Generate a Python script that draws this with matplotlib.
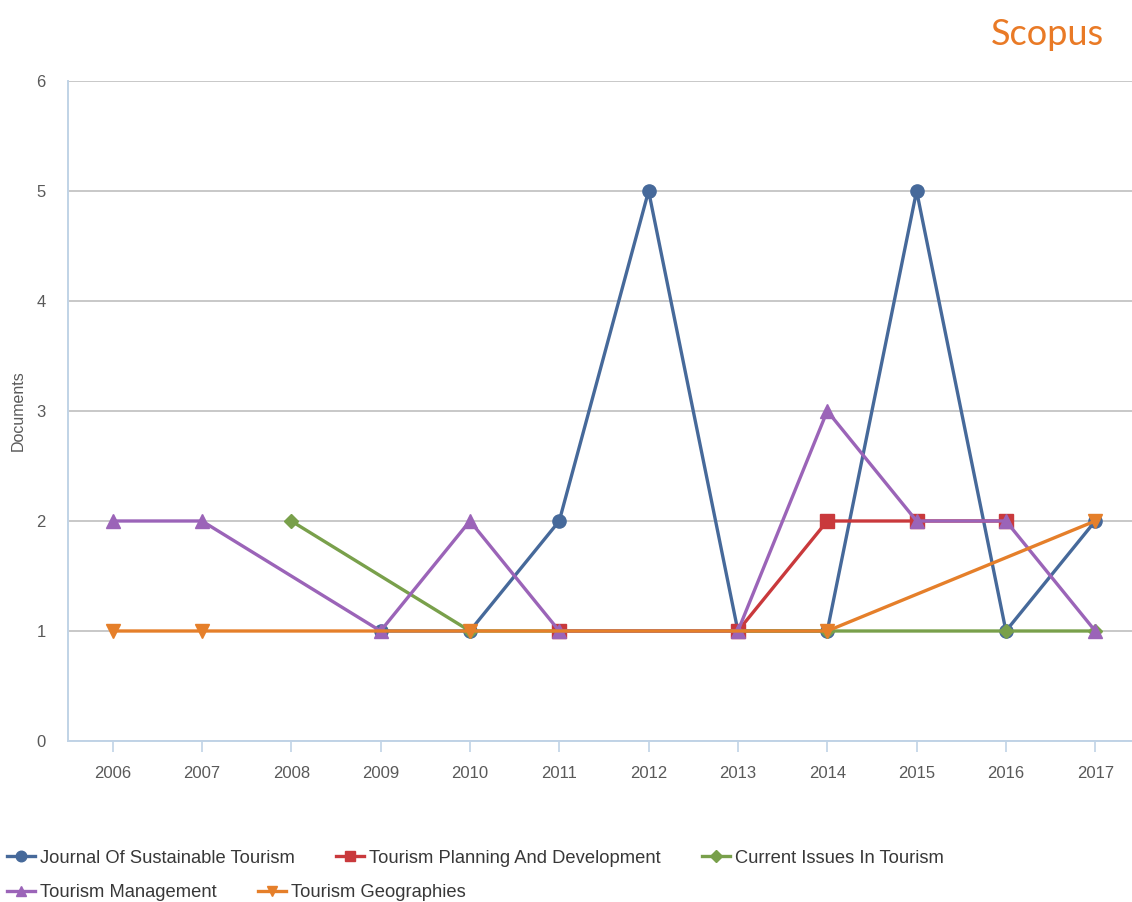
import matplotlib
matplotlib.use('Agg')
import matplotlib.pyplot as plt

plt.rcParams['font.family'] = ['Liberation Sans', 'DejaVu Sans']

# data
jst_years = [2009, 2010, 2011, 2012, 2013, 2014, 2015, 2016, 2017]
jst_docs = [1, 1, 2, 5, 1, 1, 5, 1, 2]
tpd_years = [2011, 2013, 2014, 2015, 2016]
tpd_docs = [1, 1, 2, 2, 2]
cit_years = [2008, 2010, 2014, 2016, 2017]
cit_docs = [2, 1, 1, 1, 1]
tm_years = [2006, 2007, 2009, 2010, 2011, 2013, 2014, 2015, 2016, 2017]
tm_docs = [2, 2, 1, 2, 1, 1, 3, 2, 2, 1]
tg_years = [2006, 2007, 2010, 2014, 2017]
tg_docs = [1, 1, 1, 1, 2]

years = list(range(2006, 2018))

series = [
    ('Journal Of Sustainable Tourism', jst_years, jst_docs, '#46699a', 'o'),
    ('Tourism Planning And Development', tpd_years, tpd_docs, '#c9393c', 's'),
    ('Current Issues In Tourism', cit_years, cit_docs, '#79a04b', 'D'),
    ('Tourism Management', tm_years, tm_docs, '#9b64b8', '^'),
    ('Tourism Geographies', tg_years, tg_docs, '#e57f2a', 'v'),
]

fig = plt.figure(figsize=(11.32, 9.02), dpi=100)
ax = fig.add_axes([0.060, 0.1785, 0.947, 0.7317])

handles = []
for name, xs, ys, col, mk in series:
    ms = 7.5 if mk == 'D' else 9.5
    ln, = ax.plot(xs, ys, color=col, lw=2.4, marker=mk, ms=ms, label=name)
    handles.append(ln)

ax.set_xlim(2005.5, 2017.5)
ax.set_ylim(0, 6)
ax.set_xticks(years)
ax.set_yticks(range(0, 7))
ax.yaxis.grid(True, color='#c8c8c8', lw=1.4)
ax.set_axisbelow(True)
for s in ['top', 'right']:
    ax.spines[s].set_visible(False)
ax.spines['left'].set_color('#c0d3e6')
ax.spines['bottom'].set_color('#c0d3e6')
ax.spines['left'].set_linewidth(1.4)
ax.spines['bottom'].set_linewidth(1.4)
ax.tick_params(axis='x', colors='#c0d3e6', length=8, width=1.2, labelcolor='#595959',
               labelsize=12, pad=10)
ax.tick_params(axis='y', length=0, labelcolor='#595959', labelsize=12, pad=16)
ax.set_ylabel('Documents', color='#595959', fontsize=11.5, va='center')
ax.yaxis.set_label_coords(-0.0465, 0.5)

# legend as two rows, flowing left to right
leg_kw = dict(loc='upper left', frameon=False, fontsize=13.2, handlelength=1.55,
              handletextpad=0.25, columnspacing=2.25, borderaxespad=0, borderpad=0,
              markerscale=0.8)
leg1 = fig.legend(handles=handles[:3], ncol=3, bbox_to_anchor=(0.006, 0.058), **leg_kw)
leg2 = fig.legend(handles=handles[3:], ncol=2, bbox_to_anchor=(0.006, 0.020), **leg_kw)
for leg in (leg1, leg2):
    for t in leg.get_texts():
        t.set_color('#383838')

fig.text(0.975, 0.962, 'Scopus', color='#e97a26', fontsize=26, ha='right', va='center',
         family=['Lato', 'DejaVu Sans'])

fig.savefig('out.png', dpi=100)
